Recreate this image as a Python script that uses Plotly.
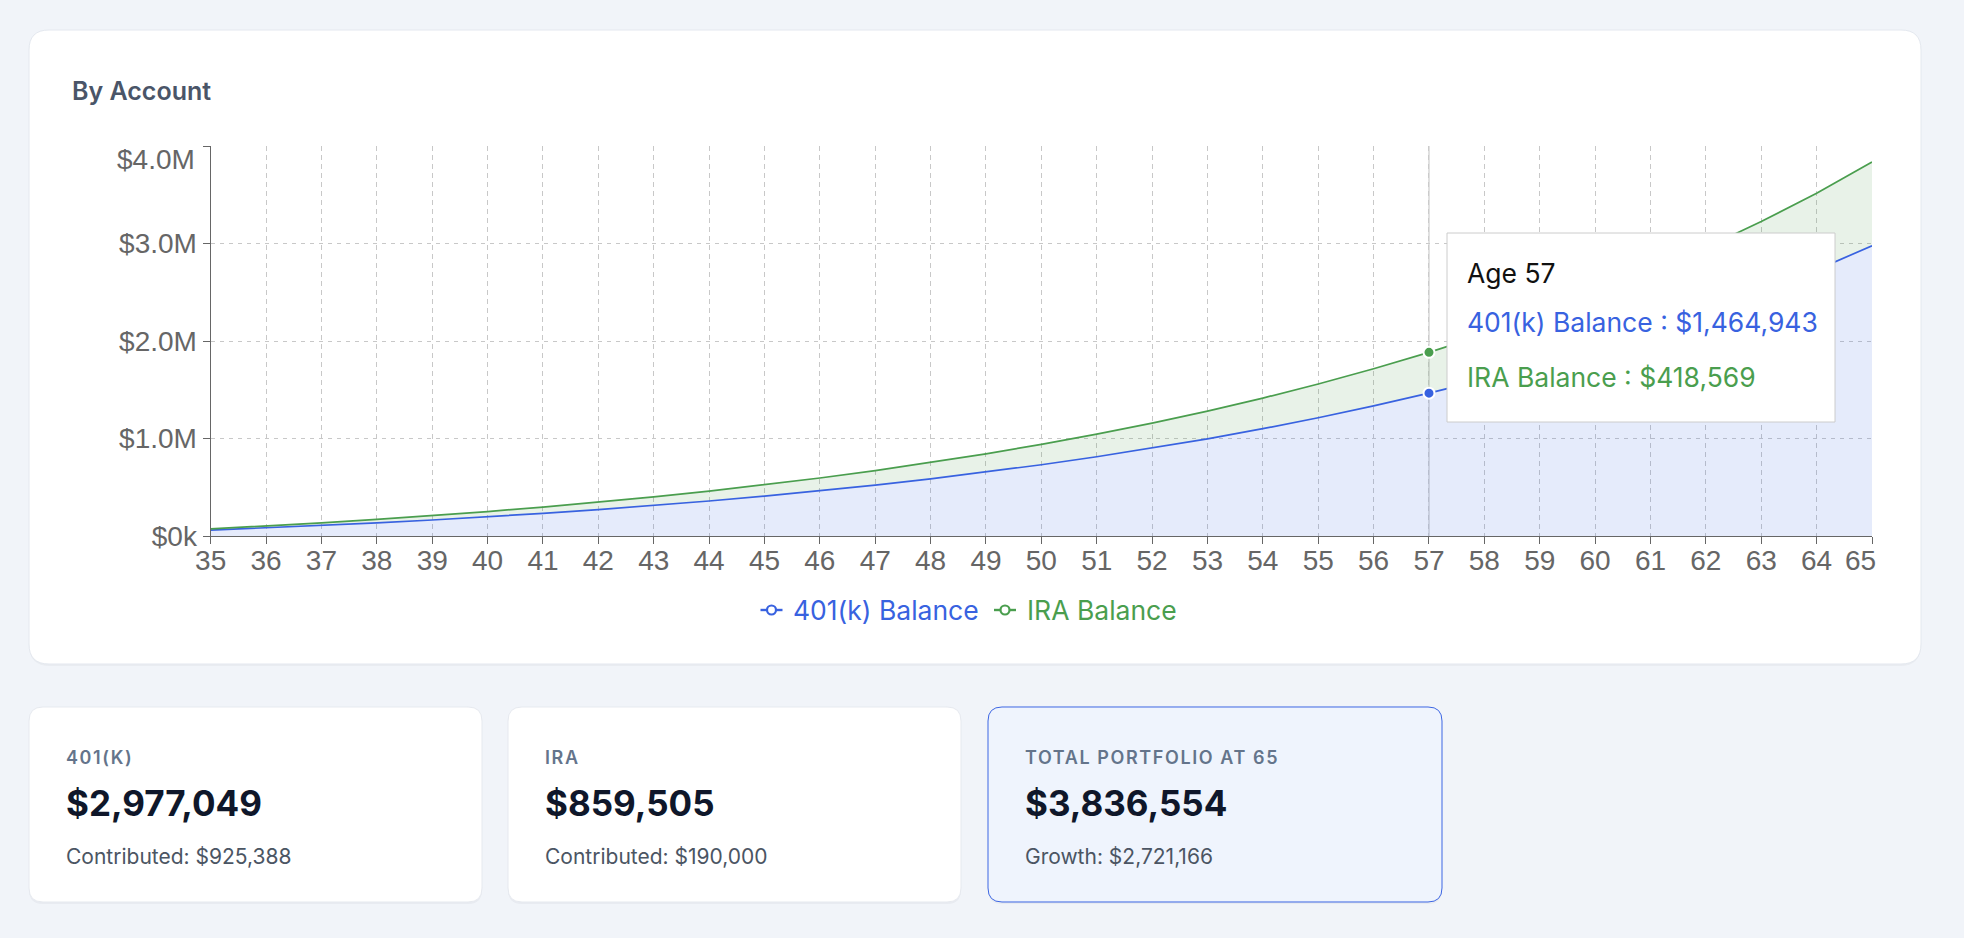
import plotly.graph_objects as go

W, H = 1964, 938

# ---------------- data ----------------
ages = [35, 36, 37, 38, 39, 40, 41, 42, 43, 44, 45, 46, 47, 48, 49, 50,
        51, 52, 53, 54, 55, 56, 57, 58, 59, 60, 61, 62, 63, 64, 65]
balance_401k = [60000, 82570, 107334, 134467, 164160, 196617, 232057, 270717,
                312851, 358732, 408653, 462931, 521904, 585938, 655424, 730784,
                812471, 900971, 996808, 1100543, 1212780, 1334167, 1464943,
                1606738, 1759930, 1925382, 2104021, 2296844, 2504920, 2729397,
                2977049]
balance_ira = [12655, 19705, 27341, 35610, 44566, 54265, 64769, 76145, 88465,
               101808, 116258, 131907, 148855, 167210, 187088, 208616, 231931,
               257181, 284527, 314143, 346217, 380953, 418569, 459310, 503433,
               551218, 602969, 659015, 719713, 785449, 859505]
series_names = ["401(k) Balance", "IRA Balance"]
y_tick_vals = [0, 1000000, 2000000, 3000000, 4000000]
y_tick_text = ["$0k", "$1.0M", "$2.0M", "$3.0M", "$4.0M"]
hover_age = 57
chart_title = "By Account"
card_labels = ["401(K)", "IRA", "TOTAL PORTFOLIO AT 65"]
card_values = ["$2,977,049", "$859,505", "$3,836,554"]
card_subs = ["Contributed: $925,388", "Contributed: $190,000", "Growth: $2,721,166"]

# ---------------- style ----------------
BLUE = "#3862e0"
GREEN = "#4a9e4e"
BLUE_FILL = "rgba(56,98,224,0.13)"
GREEN_FILL = "rgba(74,158,78,0.13)"
PAGE_BG = "#f1f4f9"
FONT = "Inter, 'Noto Sans', sans-serif"
TICK_FONT = "'Liberation Sans', Arial, sans-serif"
TICK_SIZE = 28

PLOT_L, PLOT_R, PLOT_T, PLOT_B = 210.7, 1872.0, 146.0, 536.0


def px(x):
    return x / W


def py(y):
    return 1 - y / H


def rrect(x0, y0, x1, y1, r):
    pts = [
        ("M", (x0 + r, y0)), ("L", (x1 - r, y0)), ("Q", (x1, y0), (x1, y0 + r)),
        ("L", (x1, y1 - r)), ("Q", (x1, y1), (x1 - r, y1)), ("L", (x0 + r, y1)),
        ("Q", (x0, y1), (x0, y1 - r)), ("L", (x0, y0 + r)), ("Q", (x0, y0), (x0 + r, y0)),
    ]
    s = ""
    for p in pts:
        coords = " ".join(f"{px(a):.6f},{py(b):.6f}" for a, b in p[1:])
        s += f"{p[0]} {coords} "
    return s + "Z"


fig = go.Figure()

fig.add_trace(go.Scatter(
    x=ages, y=balance_401k, name=series_names[0], stackgroup="one", mode="lines",
    line=dict(color=BLUE, width=1.7), fillcolor=BLUE_FILL, hoverinfo="skip"))
fig.add_trace(go.Scatter(
    x=ages, y=balance_ira, name=series_names[1], stackgroup="one", mode="lines",
    line=dict(color=GREEN, width=1.7), fillcolor=GREEN_FILL, hoverinfo="skip"))

hi = ages.index(hover_age)
fig.add_trace(go.Scatter(
    x=[hover_age], y=[balance_401k[hi]], mode="markers", hoverinfo="skip",
    marker=dict(size=11, color=BLUE, line=dict(color="white", width=2))))
fig.add_trace(go.Scatter(
    x=[hover_age], y=[balance_401k[hi] + balance_ira[hi]], mode="markers", hoverinfo="skip",
    marker=dict(size=11, color=GREEN, line=dict(color="white", width=2))))

shapes = []
annotations = []

# main chart card
shapes.append(dict(type="path", xref="paper", yref="paper", layer="below",
                   path=rrect(29, 32, 1921, 666, 21), fillcolor="rgba(15,23,42,0.035)",
                   line=dict(width=0)))
shapes.append(dict(type="path", xref="paper", yref="paper", layer="below",
                   path=rrect(29, 30, 1921, 664, 20), fillcolor="white",
                   line=dict(color="#e4e8ef", width=1)))

# summary cards
card_boxes = [(29, 707, 482, 902), (508, 707, 961, 902), (988, 707, 1442, 902)]
for i, (x0, y0, x1, y1) in enumerate(card_boxes):
    highlight = i == 2
    shapes.append(dict(type="path", xref="paper", yref="paper", layer="below",
                       path=rrect(x0, y0 + 2, x1, y1 + 2, 14), fillcolor="rgba(15,23,42,0.04)",
                       line=dict(width=0)))
    shapes.append(dict(type="path", xref="paper", yref="paper", layer="below",
                       path=rrect(x0, y0, x1, y1, 14),
                       fillcolor="#eff4fd" if highlight else "white",
                       line=dict(color="#3d66e3" if highlight else "#e6e9ef", width=1)))
    tx = x0 + 35
    annotations.append(dict(
        xref="paper", yref="paper", x=px(tx), y=py(757), xanchor="left", yanchor="middle",
        text=f'<span style="letter-spacing:1.6px">{card_labels[i]}</span>', showarrow=False,
        font=dict(family=FONT, size=18, color="#64748b", weight=600)))
    annotations.append(dict(
        xref="paper", yref="paper", x=px(tx), y=py(803), xanchor="left", yanchor="middle",
        text=card_values[i], showarrow=False,
        font=dict(family=FONT, size=35, color="#0f172a", weight=700)))
    annotations.append(dict(
        xref="paper", yref="paper", x=px(tx), y=py(856), xanchor="left", yanchor="middle",
        text=card_subs[i], showarrow=False,
        font=dict(family=FONT, size=21, color="#4b5563")))

# title
annotations.append(dict(
    xref="paper", yref="paper", x=px(70), y=py(91), xanchor="left", yanchor="middle",
    text=chart_title, showarrow=False,
    font=dict(family=FONT, size=25, color="#4a5568", weight=600)))

# crosshair
shapes.append(dict(type="line", xref="x", yref="y", layer="between",
                   x0=hover_age, x1=hover_age, y0=y_tick_vals[0], y1=y_tick_vals[-1],
                   line=dict(color="#cccccc", width=1.2)))

# tooltip
shapes.append(dict(type="rect", xref="paper", yref="paper", layer="above",
                   x0=px(1447), x1=px(1835), y0=py(233), y1=py(422),
                   fillcolor="white", line=dict(color="#cccccc", width=1)))
tip_lines = [
    (f"Age {hover_age}", "#111111", 273),
    (f"{series_names[0]} : ${balance_401k[hi]:,}", BLUE, 322),
    (f"{series_names[1]} : ${balance_ira[hi]:,}", GREEN, 377),
]
for txt, col, yy in tip_lines:
    annotations.append(dict(
        xref="paper", yref="paper", x=px(1465), y=py(yy), xanchor="left", yanchor="middle",
        text=txt, showarrow=False, font=dict(family=FONT, size=26.5, color=col)))

# legend (manual)
legend_items = [(series_names[0], BLUE, 760.5, 791), (series_names[1], GREEN, 994, 1024.5)]
ly = 610
for name, col, ix, tx in legend_items:
    shapes.append(dict(type="line", xref="paper", yref="paper", layer="above",
                       x0=px(ix), x1=px(ix + 22), y0=py(ly), y1=py(ly),
                       line=dict(color=col, width=2.4)))
    cx, r = ix + 11, 4.5
    shapes.append(dict(type="circle", xref="paper", yref="paper", layer="above",
                       x0=px(cx - r), x1=px(cx + r), y0=py(ly + r), y1=py(ly - r),
                       fillcolor="white", line=dict(color=col, width=2.2)))
    annotations.append(dict(
        xref="paper", yref="paper", x=px(tx), y=py(ly), xanchor="left", yanchor="middle",
        text=name, showarrow=False, font=dict(family=FONT, size=26.5, color=col)))

# edge tick labels nudged inward (as in the reference)
x_tick_text = [str(a) for a in ages]
annotations.append(dict(
    xref="paper", yref="paper", x=px(1860), y=py(560), xanchor="center", yanchor="middle",
    text=x_tick_text[-1], showarrow=False,
    font=dict(family=TICK_FONT, size=TICK_SIZE, color="#666666")))
annotations.append(dict(
    xref="paper", yref="paper", x=px(197), y=py(160), xanchor="right", yanchor="middle",
    text=y_tick_text[-1], showarrow=False,
    font=dict(family=TICK_FONT, size=TICK_SIZE, color="#666666")))
x_tick_shown = x_tick_text[:-1] + [""]
y_tick_shown = y_tick_text[:-1] + [""]

axis_common = dict(
    showgrid=True, gridcolor="#c8c8c8", griddash="4.5px,4.5px", gridwidth=1.2,
    showline=True, linecolor="#666666", linewidth=1.3,
    ticks="outside", ticklen=7, tickcolor="#666666", tickwidth=1.3,
    tickfont=dict(family=TICK_FONT, size=TICK_SIZE, color="#666666"),
    zeroline=False, fixedrange=True, automargin=False,
)

fig.update_layout(
    width=W, height=H, autosize=False,
    margin=dict(l=0, r=0, t=0, b=0),
    paper_bgcolor=PAGE_BG, plot_bgcolor="rgba(0,0,0,0)",
    showlegend=False,
    shapes=shapes, annotations=annotations,
    xaxis=dict(domain=[px(PLOT_L), px(PLOT_R)], range=[ages[0], ages[-1]],
               tickmode="array", tickvals=ages, ticktext=x_tick_shown,
               ticklabelstandoff=-8, **axis_common),
    yaxis=dict(domain=[py(PLOT_B), py(PLOT_T)], range=[y_tick_vals[0], y_tick_vals[-1]],
               tickmode="array", tickvals=y_tick_vals, ticktext=y_tick_shown, **axis_common),
    hovermode=False,
)

fig.write_html(
    "out.html",
    config={"displayModeBar": False},
    post_script="document.body.style.margin='0';document.body.style.background='#f1f4f9';"
                "document.body.style.overflow='hidden';",
)
